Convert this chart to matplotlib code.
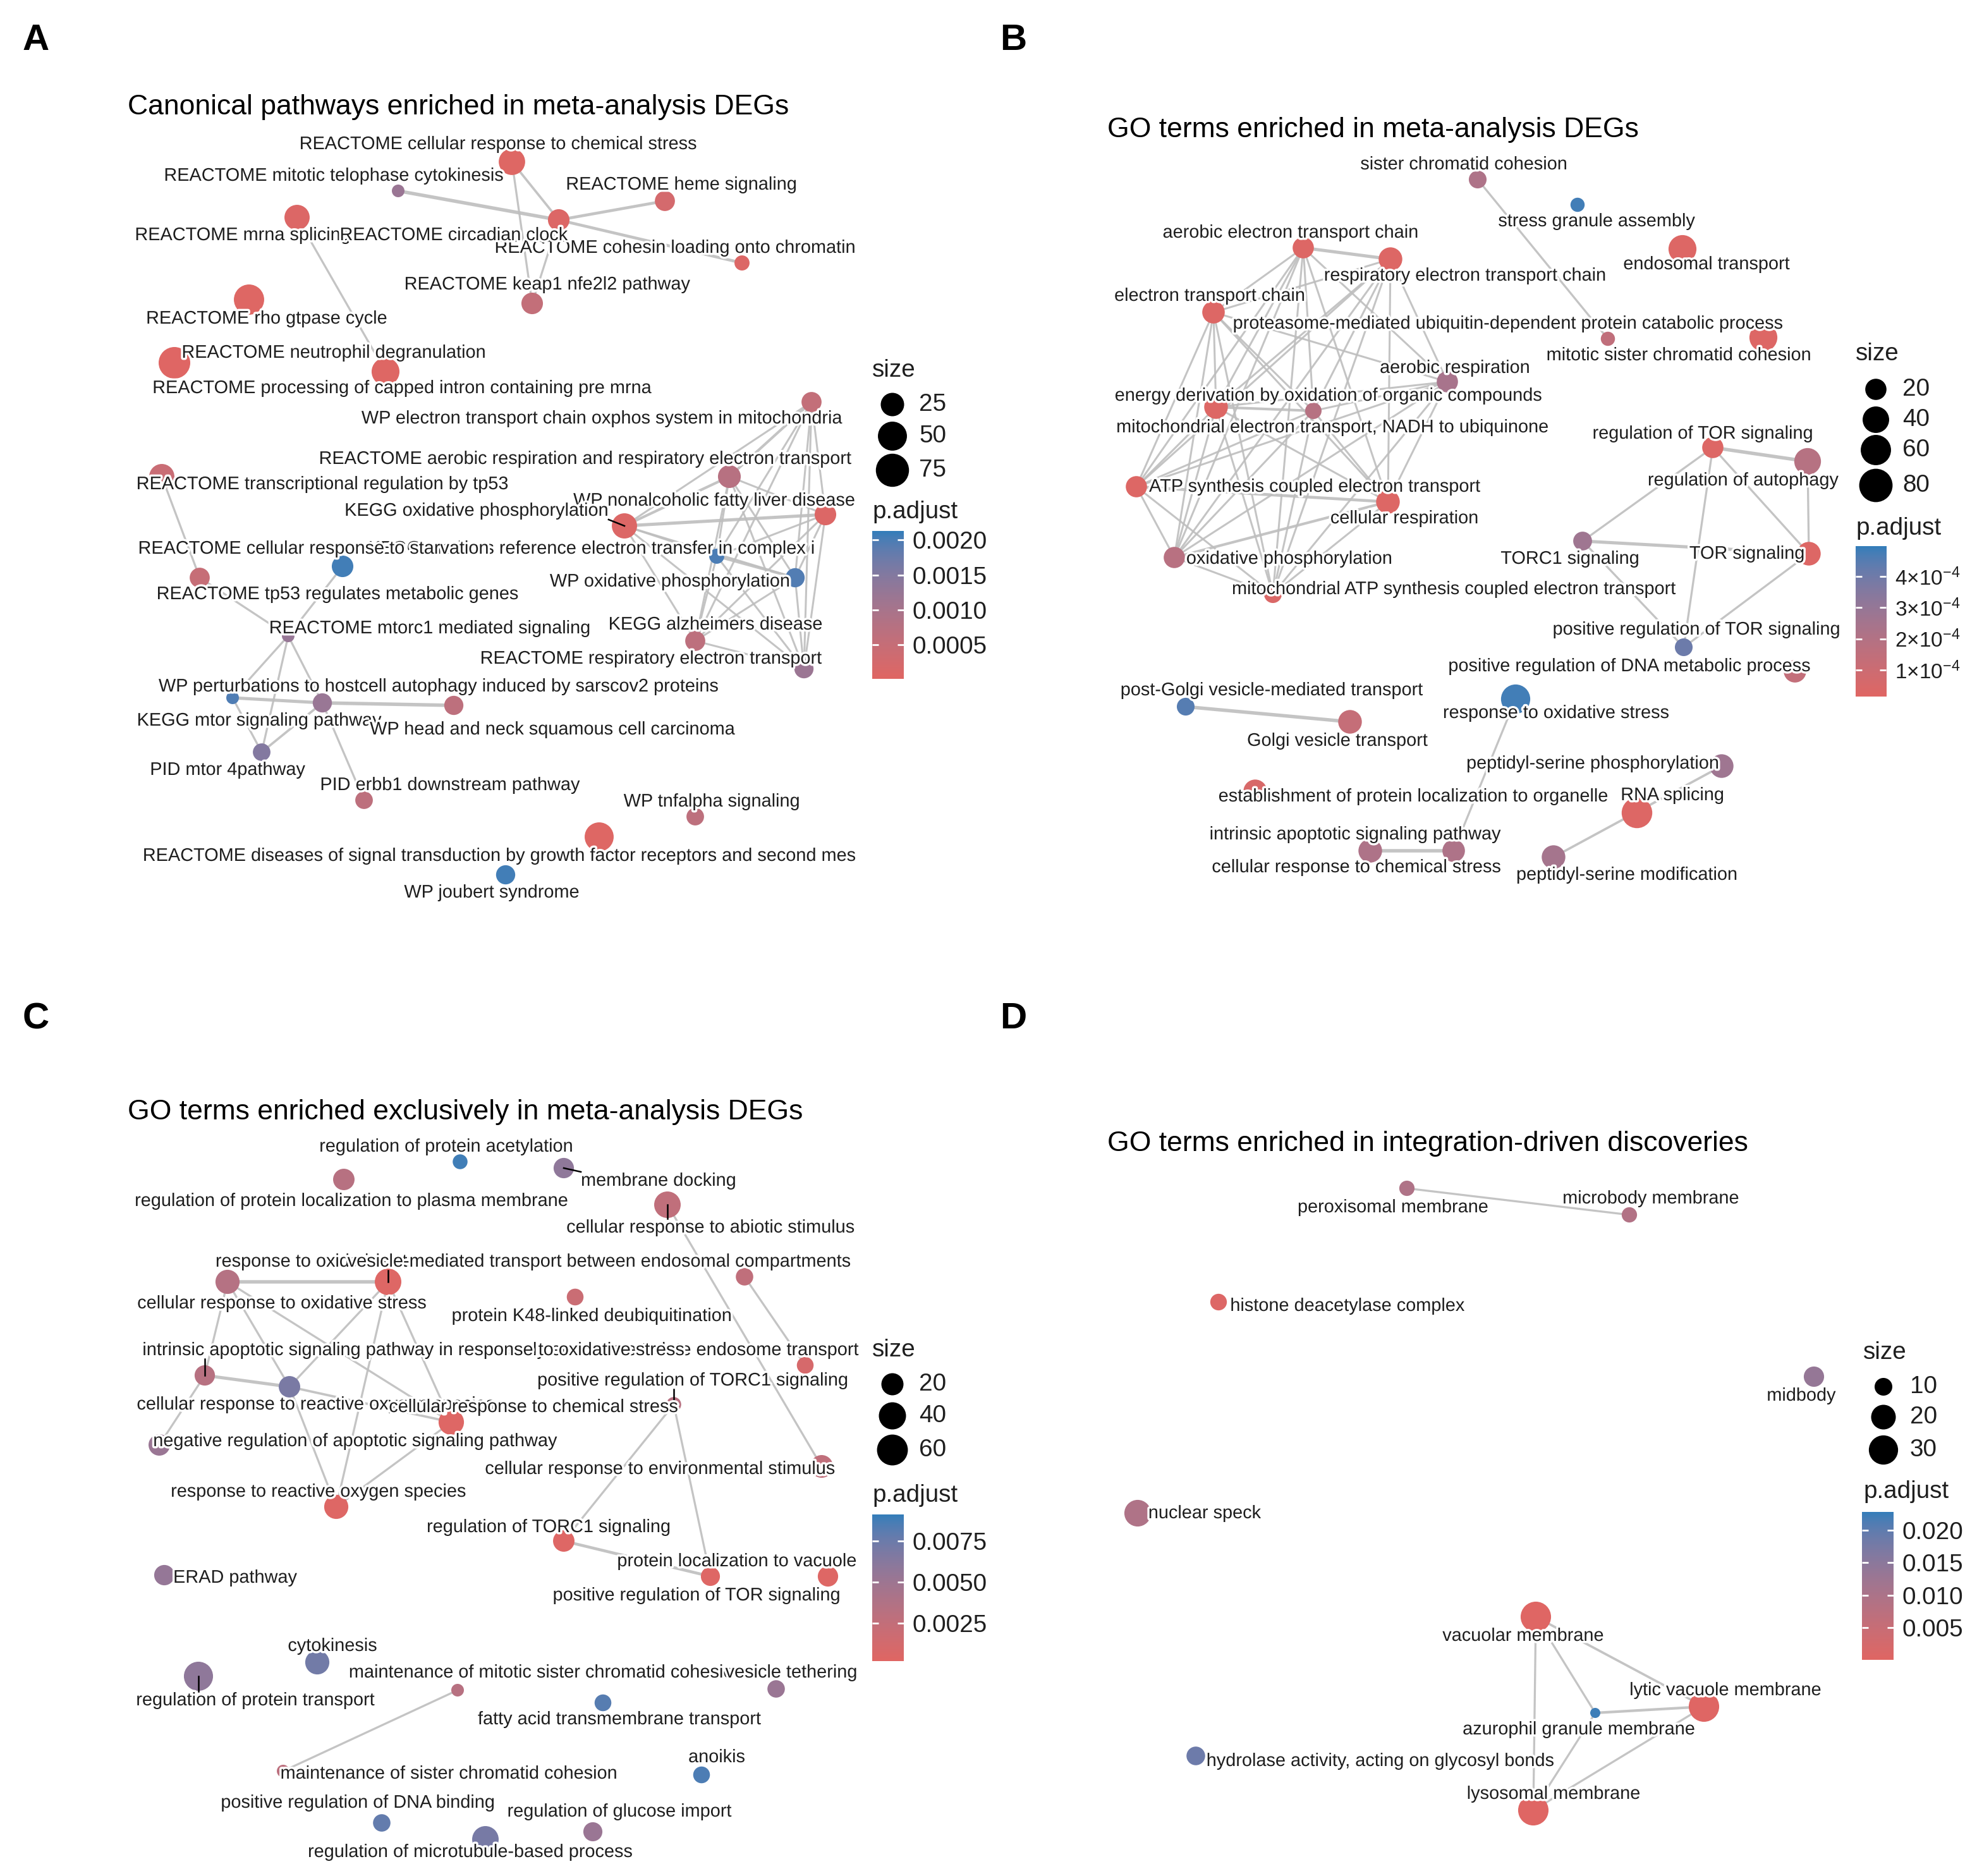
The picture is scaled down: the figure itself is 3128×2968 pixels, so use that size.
import itertools
import numpy as np
import matplotlib

matplotlib.use("Agg")

import matplotlib.pyplot as plt
import matplotlib.patheffects as pe
from matplotlib.colors import ListedColormap, Normalize

plt.rcParams["font.family"] = ["Liberation Sans", "DejaVu Sans"]
plt.rcParams["mathtext.fontset"] = "custom"
plt.rcParams["mathtext.rm"] = "Liberation Sans"
plt.rcParams["mathtext.it"] = "Liberation Sans:italic"

# layout units: half of the output pixels
W, H = 1564, 1484

# ------------------ panel A: canonical pathways ------------------
A_terms = [
    "REACTOME cellular response to chemical stress",
    "REACTOME mitotic telophase cytokinesis",
    "REACTOME heme signaling",
    "REACTOME circadian clock",
    "REACTOME mrna splicing",
    "REACTOME cohesin loading onto chromatin",
    "REACTOME keap1 nfe2l2 pathway",
    "REACTOME rho gtpase cycle",
    "REACTOME neutrophil degranulation",
    "REACTOME processing of capped intron containing pre mrna",
    "WP electron transport chain oxphos system in mitochondria",
    "REACTOME aerobic respiration and respiratory electron transport",
    "REACTOME transcriptional regulation by tp53",
    "WP nonalcoholic fatty liver disease",
    "KEGG oxidative phosphorylation",
    "KEGG medicus reference electron transfer in complex i",
    "REACTOME cellular response to starvation",
    "REACTOME tp53 regulates metabolic genes",
    "WP oxidative phosphorylation",
    "REACTOME mtorc1 mediated signaling",
    "KEGG alzheimers disease",
    "REACTOME respiratory electron transport",
    "WP perturbations to hostcell autophagy induced by sarscov2 proteins",
    "KEGG mtor signaling pathway",
    "WP head and neck squamous cell carcinoma",
    "PID mtor 4pathway",
    "PID erbb1 downstream pathway",
    "WP tnfalpha signaling",
    "REACTOME diseases of signal transduction by growth factor receptors and second mes",
    "WP joubert syndrome",
]
A_x = [405, 315, 526, 442, 235, 587, 421, 197, 138, 305, 642, 577, 128, 653, 494,
       567, 271, 158, 629, 228, 550, 636, 184, 255, 359, 207, 288, 550, 474, 400]
A_y = [128, 151, 159, 174, 172, 208, 240, 237, 287, 294, 318, 377, 377, 407, 416,
       440, 448, 457, 457, 503, 507, 529, 552, 556, 558, 595, 633, 646, 662, 692]
A_count = [37, 6, 15, 19, 32, 7, 19, 57, 65, 44, 15, 23, 32, 19, 32,
           7, 19, 15, 13, 6, 15, 13, 6, 13, 13, 10, 10, 10, 50, 13]
A_padj = [0.00005, 0.0012, 0.00025, 0.0001, 0.0001, 0.0001, 0.00055, 0.00005,
          0.00003, 0.00005, 0.00055, 0.00075, 0.00045, 0.0001, 0.0001, 0.002,
          0.00205, 0.0005, 0.00195, 0.00125, 0.00065, 0.00118, 0.00198, 0.00122,
          0.00065, 0.0015, 0.00065, 0.00065, 0.00005, 0.00205]
A_lab_x = [394, 264, 539, 359, 192, 534, 433, 211, 264, 318, 476, 463, 255, 565, 377,
           468, 248, 267, 530, 340, 566, 515, 347, 205, 437, 180, 356, 563, 395, 389]
A_lab_y = [114, 139, 146, 186, 186, 196, 225, 252, 279, 307, 331, 363, 383, 396, 404,
           434, 434, 470, 460, 497, 494, 521, 543, 570, 577, 609, 621, 634, 677, 706]
A_edges = [(1, 3, 0.8), (0, 3, 0.4), (0, 6, 0.3), (3, 2, 0.6), (3, 5, 0.6),
           (3, 6, 0.3), (4, 9, 0.3), (12, 17, 0.3), (17, 19, 0.3), (16, 19, 0.3),
           (19, 22, 0.3), (19, 23, 0.3), (19, 25, 0.3), (22, 23, 0.7), (23, 24, 0.8),
           (22, 25, 0.3), (23, 25, 0.4), (23, 26, 0.3)]
A_cluster = [10, 11, 13, 14, 15, 18, 20, 21]
A_thick = {(13, 14): 0.7, (11, 14): 0.5, (10, 11): 0.5, (15, 18): 0.5}
A_segments = [14]
A_front = [3]

# ------------------ panel B: GO terms ------------------
B_terms = [
    "sister chromatid cohesion",
    "stress granule assembly",
    "endosomal transport",
    "aerobic electron transport chain",
    "respiratory electron transport chain",
    "electron transport chain",
    "proteasome-mediated ubiquitin-dependent protein catabolic process",
    "mitotic sister chromatid cohesion",
    "aerobic respiration",
    "energy derivation by oxidation of organic compounds",
    "mitochondrial electron transport, NADH to ubiquinone",
    "ATP synthesis coupled electron transport",
    "cellular respiration",
    "oxidative phosphorylation",
    "mitochondrial ATP synthesis coupled electron transport",
    "regulation of TOR signaling",
    "regulation of autophagy",
    "TORC1 signaling",
    "TOR signaling",
    "positive regulation of TOR signaling",
    "positive regulation of DNA metabolic process",
    "post-Golgi vesicle-mediated transport",
    "Golgi vesicle transport",
    "response to oxidative stress",
    "peptidyl-serine phosphorylation",
    "establishment of protein localization to organelle",
    "RNA splicing",
    "intrinsic apoptotic signaling pathway",
    "cellular response to chemical stress",
    "peptidyl-serine modification",
]
B_x = [1169, 1248, 1331, 1031, 1100, 960, 1395, 1272, 1145, 962, 1039, 899, 1098, 929, 1007,
       1355, 1430, 1252, 1431, 1332, 1420, 938, 1068, 1199, 1362, 993, 1295, 1084, 1150, 1229]
B_y = [142, 162, 197, 196, 205, 247, 267, 268, 302, 322, 325, 385, 397, 441, 470,
       354, 365, 428, 438, 512, 531, 559, 571, 553, 606, 626, 643, 673, 673, 678]
B_count = [12, 8, 47, 20, 28, 24, 47, 8, 20, 28, 10, 20, 28, 20, 12,
           20, 41, 14, 28, 12, 24, 12, 28, 54, 28, 28, 62, 28, 24, 28]
B_padj = [2.2e-4, 4.8e-4, 3e-5, 3e-5, 3e-5, 3e-5, 3e-5, 1.5e-4, 2.4e-4, 3e-5,
          1.9e-4, 3e-5, 3e-5, 1.8e-4, 4e-5, 3e-5, 1.9e-4, 2.7e-4, 3e-5, 4.1e-4,
          1.4e-4, 4.5e-4, 1.3e-4, 4.8e-4, 2.7e-4, 5e-5, 3e-5, 2.2e-4, 2.2e-4, 2.5e-4]
B_lab_x = [1158, 1263, 1350, 1021, 1159, 957, 1193, 1328, 1151, 1051, 1054, 1040, 1111, 1020, 1150,
           1347, 1379, 1242, 1382, 1342, 1289, 1006, 1058, 1231, 1260, 1118, 1323, 1072, 1073, 1287]
B_lab_y = [130, 175, 209, 184, 218, 234, 256, 281, 291, 313, 338, 385, 410, 442, 466,
           343, 380, 442, 438, 498, 527, 546, 586, 564, 604, 630, 629, 660, 686, 692]
B_edges = [(0, 7, 0.3), (15, 16, 0.8), (15, 17, 0.3), (15, 18, 0.3), (15, 19, 0.3),
           (16, 18, 0.3), (17, 18, 0.7), (17, 19, 0.3), (18, 19, 0.3), (21, 22, 0.8),
           (23, 28, 0.3), (27, 28, 0.8), (24, 29, 0.4)]
B_cluster = [3, 4, 5, 8, 9, 10, 11, 12, 13, 14]
B_thick = {(3, 4): 0.7, (11, 12): 0.6, (9, 10): 0.5, (12, 13): 0.5}
B_segments = []
B_front = []

# ------------------ panel C: GO terms exclusive ------------------
C_terms = [
    "regulation of protein acetylation",
    "membrane docking",
    "regulation of protein localization to plasma membrane",
    "cellular response to abiotic stimulus",
    "vesicle-mediated transport between endosomal compartments",
    "response to oxidative stress",
    "cellular response to oxidative stress",
    "protein K48-linked deubiquitination",
    "intrinsic apoptotic signaling pathway in response to oxidative stress",
    "early endosome to late endosome transport",
    "positive regulation of TORC1 signaling",
    "cellular response to reactive oxygen species",
    "cellular response to chemical stress",
    "negative regulation of apoptotic signaling pathway",
    "cellular response to environmental stimulus",
    "response to reactive oxygen species",
    "regulation of TORC1 signaling",
    "positive regulation of TOR signaling",
    "protein localization to vacuole",
    "ERAD pathway",
    "cytokinesis",
    "regulation of protein transport",
    "maintenance of mitotic sister chromatid cohesion",
    "vesicle tethering",
    "fatty acid transmembrane transport",
    "maintenance of sister chromatid cohesion",
    "anoikis",
    "positive regulation of DNA binding",
    "regulation of glucose import",
    "regulation of microtubule-based process",
]
C_x = [364, 446, 272, 528, 589, 307, 180, 455, 162, 637, 533, 229, 357, 126, 650,
       266, 446, 562, 655, 130, 251, 157, 362, 614, 477, 224, 555, 302, 469, 384]
C_y = [919, 924, 933, 953, 1010, 1014, 1014, 1026, 1088, 1080, 1111, 1097, 1125, 1143, 1160,
       1192, 1219, 1247, 1247, 1246, 1315, 1326, 1337, 1336, 1347, 1401, 1404, 1442, 1449, 1455]
C_count = [6, 15, 18, 37, 9, 37, 27, 8, 15, 8, 6, 18, 32, 18, 22,
           27, 18, 12, 15, 15, 27, 50, 5, 9, 8, 5, 8, 9, 12, 37]
C_padj = [0.0088, 0.0058, 0.0033, 0.0027, 0.0027, 0.0004, 0.0035, 0.002, 0.0033, 0.001,
          0.0033, 0.0069, 0.0004, 0.0052, 0.0027, 0.0004, 0.0004, 0.0004, 0.0004, 0.0055,
          0.0072, 0.0058, 0.0033, 0.0052, 0.0082, 0.003, 0.0085, 0.0078, 0.0052, 0.007]
C_lab_x = [353, 521, 278, 562, 474, 260, 223, 468, 327, 540, 548, 250, 422, 281, 522,
           252, 434, 551, 583, 186, 263, 202, 432, 626, 490, 355, 567, 283, 490, 372]
C_lab_y = [907, 934, 950, 971, 998, 998, 1031, 1041, 1068, 1068, 1092, 1111, 1113, 1140, 1162,
           1180, 1208, 1262, 1235, 1248, 1302, 1345, 1323, 1323, 1360, 1403, 1390, 1426, 1433, 1465]
C_edges = [(6, 5, 0.8), (6, 8, 0.3), (6, 11, 0.3), (6, 12, 0.3), (5, 11, 0.3),
           (5, 15, 0.3), (5, 12, 0.3), (8, 11, 0.7), (8, 13, 0.3), (11, 12, 0.4),
           (11, 15, 0.3), (12, 15, 0.3), (3, 14, 0.3), (4, 9, 0.3), (10, 16, 0.3),
           (10, 17, 0.3), (16, 17, 0.6), (22, 25, 0.3)]
C_segments = [1, 3, 5, 8, 10, 21]
C_front = [4, 8]

# ------------------ panel D: integration-driven discoveries ------------------
D_terms = [
    "peroxisomal membrane",
    "microbody membrane",
    "histone deacetylase complex",
    "midbody",
    "nuclear speck",
    "vacuolar membrane",
    "lytic vacuole membrane",
    "azurophil granule membrane",
    "hydrolase activity, acting on glycosyl bonds",
    "lysosomal membrane",
]
D_x = [1113, 1289, 964, 1435, 900, 1215, 1348, 1262, 946, 1213]
D_y = [940, 961, 1030, 1089, 1197, 1279, 1350, 1355, 1389, 1432]
D_count = [8, 8, 9, 13, 24, 33, 33, 6, 11, 33]
D_padj = [0.0095, 0.009, 0.0008, 0.0135, 0.0095, 0.0004, 0.0004, 0.0222, 0.0185, 0.0004]
D_lab_x = [1102, 1306, 1066, 1425, 953, 1205, 1365, 1249, 1092, 1229]
D_lab_y = [955, 948, 1033, 1104, 1197, 1294, 1337, 1368, 1393, 1419]
D_edges = [(0, 1, 0.3), (5, 6, 0.4), (5, 7, 0.3), (5, 9, 0.3), (6, 7, 0.5),
           (6, 9, 0.3), (7, 9, 0.3)]
D_segments = []
D_front = []

# legends
A_size_breaks = [25, 50, 75]
B_size_breaks = [20, 40, 60, 80]
C_size_breaks = [20, 40, 60]
D_size_breaks = [10, 20, 30]
A_padj_ticks = [0.0005, 0.0010, 0.0015, 0.0020]
A_padj_labels = ["0.0005", "0.0010", "0.0015", "0.0020"]
B_padj_ticks = [1e-4, 2e-4, 3e-4, 4e-4]
B_padj_labels = [r"$1{\times}10^{-4}$", r"$2{\times}10^{-4}$",
                 r"$3{\times}10^{-4}$", r"$4{\times}10^{-4}$"]
C_padj_ticks = [0.0025, 0.0050, 0.0075]
C_padj_labels = ["0.0025", "0.0050", "0.0075"]
D_padj_ticks = [0.005, 0.010, 0.015, 0.020]
D_padj_labels = ["0.005", "0.010", "0.015", "0.020"]

titles = [
    "Canonical pathways enriched in meta-analysis DEGs",
    "GO terms enriched in meta-analysis DEGs",
    "GO terms enriched exclusively in meta-analysis DEGs",
    "GO terms enriched in integration-driven discoveries",
]

LAB_FS = 10.4
TITLE_FS = 16
LEG_FS = 13.9
TXT = "#1e1e1e"
EDGE = "#bebebe"


def lab_ramp(c0, c1, n=256):
    # ggplot-like gradient, interpolated in CIELAB
    white = np.array([0.95047, 1.0, 1.08883])
    m = np.array([[0.4124, 0.3576, 0.1805],
                  [0.2126, 0.7152, 0.0722],
                  [0.0193, 0.1192, 0.9505]])

    def to_lab(h):
        rgb = np.array([int(h[k:k + 2], 16) for k in (1, 3, 5)]) / 255.0
        lin = np.where(rgb <= 0.04045, rgb / 12.92, ((rgb + 0.055) / 1.055) ** 2.4)
        xyz = m @ lin / white
        f = np.where(xyz > 0.008856, np.cbrt(xyz), 7.787 * xyz + 16 / 116)
        return np.array([116 * f[1] - 16, 500 * (f[0] - f[1]), 200 * (f[1] - f[2])])

    t = np.linspace(0, 1, n)[:, None]
    lab = to_lab(c0) * (1 - t) + to_lab(c1) * t
    fy = (lab[:, 0] + 16) / 116
    f = np.stack([fy + lab[:, 1] / 500, fy, fy - lab[:, 2] / 200], axis=1)
    xyz = np.where(f ** 3 > 0.008856, f ** 3, (f - 16 / 116) / 7.787) * white
    lin = xyz @ np.linalg.inv(m).T
    lin = np.clip(lin, 0, 1)
    rgb = np.where(lin <= 0.0031308, 12.92 * lin, 1.055 * lin ** (1 / 2.4) - 0.055)
    return ListedColormap(np.clip(rgb, 0, 1))


CMAP = lab_ramp("#e06663", "#327eba")


def node_diam(count, lo, hi, d0, d1):
    # area-like size scale, result in layout units
    v = np.clip((np.asarray(count, float) - lo) / (hi - lo), 0, 1)
    return d0 + (d1 - d0) * np.sqrt(v)


def marker_area(d):
    # layout unit = 2 px at 200 dpi
    return (np.asarray(d) * 2 * 72 / 200) ** 2


fig = plt.figure(figsize=(W * 2 / 200, H * 2 / 200), dpi=200)


def box_axes(x0, y0, x1, y1):
    ax = fig.add_axes([x0 / W, 1 - y1 / H, (x1 - x0) / W, (y1 - y0) / H])
    ax.set_xlim(x0, x1)
    ax.set_ylim(y1, y0)
    ax.axis("off")
    return ax


def all_edges(edges, cluster, thick):
    out = list(edges)
    for i, j in itertools.combinations(cluster, 2):
        out.append((i, j, thick.get((i, j), thick.get((j, i), 0.25))))
    return out


def draw_network(ax, terms, x, y, count, padj, lab_x, lab_y, edges, size_par, lim, front):
    for i, j, w in edges:
        ax.plot([x[i], x[j]], [y[i], y[j]], color=EDGE, lw=0.7 + 1.6 * w,
                alpha=0.9, zorder=1, solid_capstyle="round")
    d = node_diam(count, *size_par)
    ax.scatter(x, y, s=marker_area(d), c=padj, cmap=CMAP,
               norm=Normalize(*lim), edgecolors="none", zorder=2, clip_on=False)
    texts = []
    for k, (t, lx, ly) in enumerate(zip(terms, lab_x, lab_y)):
        texts.append(ax.text(lx, ly, t, ha="center", va="center", fontsize=LAB_FS,
                             color=TXT, zorder=4.5 if k in front else 4, clip_on=False,
                             path_effects=[pe.withStroke(linewidth=2.5, foreground="white")]))
    return texts


def draw_legend(ax, xl, y_size, breaks, key_y, size_par, y_pad, bar, lim, ticks, labels,
                tick_fs=LEG_FS):
    ax.text(xl, y_size, "size", ha="left", va="center", fontsize=LEG_FS, color=TXT)
    d = node_diam(breaks, *size_par)
    ax.scatter([xl + 16] * len(breaks), key_y, s=marker_area(d), color="black",
               edgecolors="none", zorder=5, clip_on=False)
    for b, yb in zip(breaks, key_y):
        ax.text(xl + 37, yb, str(b), ha="left", va="center", fontsize=LEG_FS, color=TXT)
    ax.text(xl, y_pad, "p.adjust", ha="left", va="center", fontsize=LEG_FS, color=TXT)
    x0, y0, x1, y1 = bar
    cax = fig.add_axes([x0 / W, 1 - y1 / H, (x1 - x0) / W, (y1 - y0) / H])
    grad = np.linspace(lim[0], lim[1], 256).reshape(-1, 1)
    cax.imshow(grad, aspect="auto", cmap=CMAP, norm=Normalize(*lim),
               origin="lower", extent=[0, 1, lim[0], lim[1]])
    cax.set_xlim(0, 1)
    cax.set_ylim(*lim)
    cax.set_xticks([])
    cax.set_yticks(ticks)
    cax.set_yticklabels(labels)
    cax.yaxis.set_ticks_position("both")
    cax.tick_params(axis="y", direction="in", length=3.5, width=1.0, color="white",
                    labelleft=False, labelright=True, labelsize=tick_fs,
                    labelcolor=TXT, pad=5)
    for s in cax.spines.values():
        s.set_visible(False)


axA = box_axes(0, 0, 782, 742)
axB = box_axes(782, 0, 1564, 742)
axC = box_axes(0, 742, 782, 1484)
axD = box_axes(782, 742, 1564, 1484)

A_size = (6, 90, 10, 27.9)
B_size = (7.6, 90, 10, 27.5)
C_size = (5.2, 75.2, 10, 26.3)
D_size = (6.25, 36.25, 8, 25.0)
A_lim = (0.00001, 0.00213)
B_lim = (1.5e-5, 4.97e-4)
C_lim = (0.0002, 0.0091)
D_lim = (0.00005, 0.0228)

tA = draw_network(axA, A_terms, A_x, A_y, A_count, A_padj, A_lab_x, A_lab_y,
                  all_edges(A_edges, A_cluster, A_thick), A_size, A_lim, A_front)
tB = draw_network(axB, B_terms, B_x, B_y, B_count, B_padj, B_lab_x, B_lab_y,
                  all_edges(B_edges, B_cluster, B_thick), B_size, B_lim, B_front)
tC = draw_network(axC, C_terms, C_x, C_y, C_count, C_padj, C_lab_x, C_lab_y,
                  C_edges, C_size, C_lim, C_front)
tD = draw_network(axD, D_terms, D_x, D_y, D_count, D_padj, D_lab_x, D_lab_y,
                  D_edges, D_size, D_lim, D_front)

draw_legend(axA, 690, 293, A_size_breaks, [320, 345, 372], A_size, 405,
            (690, 420, 715, 537), A_lim, A_padj_ticks, A_padj_labels)
draw_legend(axB, 1468, 280, B_size_breaks, [308, 332, 356, 384], B_size, 418,
            (1468, 432, 1492, 551), B_lim, B_padj_ticks, B_padj_labels, tick_fs=12)
draw_legend(axC, 690, 1068, C_size_breaks, [1095, 1120, 1147], C_size, 1183,
            (690, 1198, 715, 1314), C_lim, C_padj_ticks, C_padj_labels)
draw_legend(axD, 1474, 1070, D_size_breaks, [1097, 1121, 1147], D_size, 1180,
            (1473, 1196, 1498, 1313), D_lim, D_padj_ticks, D_padj_labels)

# titles and panel letters
for ax, (tx, ty), title in zip([axA, axB, axC, axD],
                               [(101, 85), (876, 103), (101, 880), (876, 905)], titles):
    ax.text(tx, ty, title, ha="left", va="center", fontsize=TITLE_FS, color="black")
for ax, (lx, ly), letter in zip([axA, axB, axC, axD],
                                [(18, 32), (791, 32), (18, 806), (791, 806)], "ABCD"):
    ax.text(lx, ly, letter, ha="left", va="center", fontsize=21,
            fontweight="bold", color="black")

# short label-to-node segments (repel style)
fig.canvas.draw()
renderer = fig.canvas.get_renderer()
for ax, texts, xs, ys, seg in [(axA, tA, A_x, A_y, A_segments), (axB, tB, B_x, B_y, B_segments),
                               (axC, tC, C_x, C_y, C_segments), (axD, tD, D_x, D_y, D_segments)]:
    inv = ax.transData.inverted()
    for i in seg:
        bb = texts[i].get_window_extent(renderer)
        (ax0, ay0), (ax1, ay1) = inv.transform([[bb.x0, bb.y0], [bb.x1, bb.y1]])
        px = np.clip(xs[i], min(ax0, ax1), max(ax0, ax1))
        py = np.clip(ys[i], min(ay0, ay1), max(ay0, ay1))
        ax.plot([px, xs[i]], [py, ys[i]], color="black", lw=0.9, zorder=3)

fig.savefig("out.png", dpi=200, facecolor="white")
